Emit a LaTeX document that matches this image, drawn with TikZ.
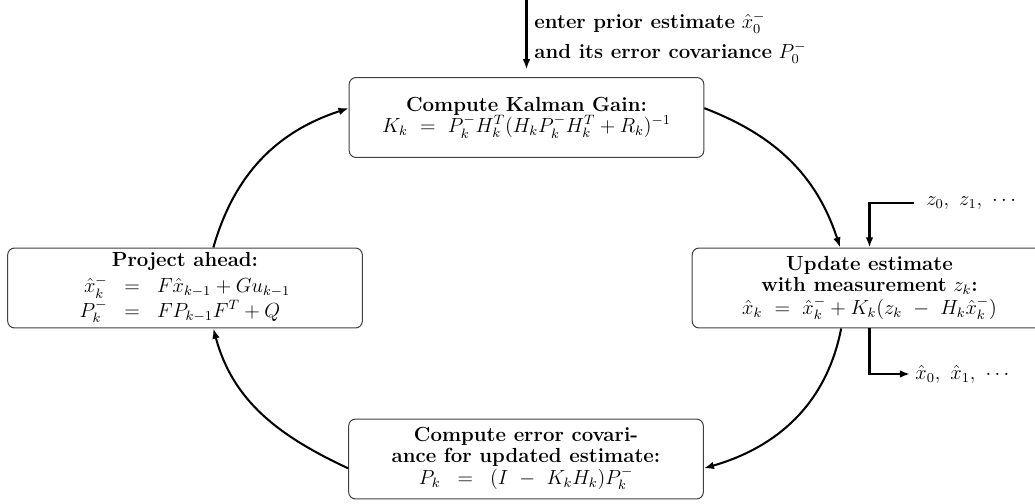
\documentclass[tikz,border=0pt]{standalone}
\usepackage{amsmath}
\usepackage{amssymb}
\usetikzlibrary{
  arrows,
  arrows.meta
}

\begin{document}
\begin{tikzpicture}[
    x=0.588pt, y=-0.588pt,
  every node/.style = {font=\fontsize{12}{12.4}\selectfont},
  block/.style = {shape=rectangle, rounded corners,
    draw=black!75, semithick, align=center,
    minimum width=208.5pt, minimum height=47pt, inner sep=2pt},
  flow/.style = {-{Latex[length=6pt, width=4.5pt]}, very thick}]
    \tikzstyle{feed}=[anchor=west, inner sep=3pt]
  \useasboundingbox (0,0) rectangle (1035,504);
  % the four steps of the loop
  \node[block] (gain) at (526.5,117.5) {\textbf{Compute Kalman Gain:}\\
    $K_k\ =\ P_k^-H_k^T(H_kP_k^-H_k^T+R_k)^{-1}$};
  \node[block] (update) at (869.5,288) {\textbf{Update estimate}\\
    \textbf{with measurement} $z_k$\textbf{:}\\[1pt]
    $\hat{x}_k\ =\ \hat{x}_k^-+K_k(z_k\ -\ H_k\hat{x}_k^-)$};
  \node[block] (errcov) at (526,459) {\textbf{Compute error covari-}\\
    \textbf{ance for updated estimate:}\\
    $\begin{array}{rcl} P_k & = & (I\ -\ K_kH_k)P_k^- \end{array}$};
  \node[block] (project) at (185,288) {\textbf{Project ahead:}\\[2pt]
    $\begin{array}{rcl}
      \hat{x}_k^- & = & F\hat{x}_{k-1}+Gu_{k-1}\\[1pt]
      P_k^- & = & FP_{k-1}F^T+Q
    \end{array}$};
  % inputs and outputs
  \coordinate (enter) at (526.5,0);
  \node[feed, align=left] (prior) at (529,38)
    {\textbf{enter prior estimate} $\hat{x}_0^-$\\[4pt]
     \textbf{and its error covariance} $P_0^-$};
  \node[feed, inner xsep=7pt] (zmeas) at (914,203) {$z_0,\ z_1,\ \cdots$};
  \node[feed] (xest) at (910,374) {$\hat{x}_0,\ \hat{x}_1,\ \cdots$};
  \draw[flow, shorten >=4.5pt] (enter) -- (gain);
  \draw[flow] (zmeas) -| (update);
  \draw[flow] (update) |- (xest);
  % the loop
  \draw[flow] (project.55) to[out=74, in=198] (gain.177);
  \draw[flow] (gain.3) to[out=-21, in=108] (update.126);
  \draw[flow] (update.235) to[out=-101, in=16] (errcov.357);
  \draw[flow] (errcov.183) to[out=155, in=-75] (project.305);
\end{tikzpicture}
\end{document}
